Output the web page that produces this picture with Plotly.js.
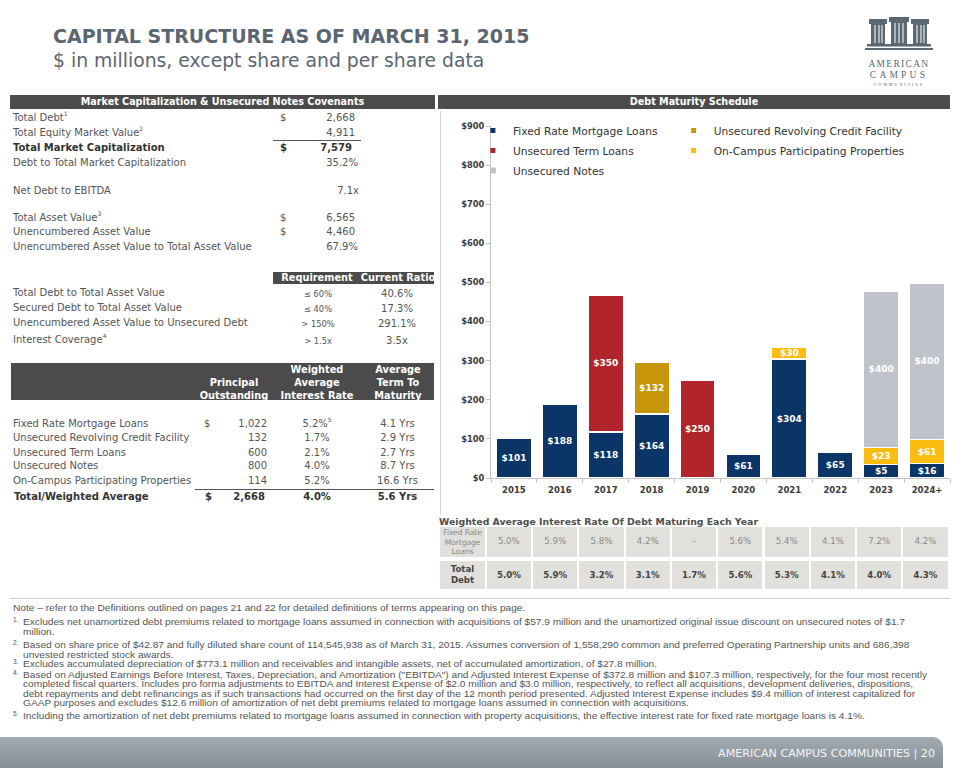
<!DOCTYPE html>
<html><head><meta charset="utf-8">
<script src="https://cdn.plot.ly/plotly-3.0.1.min.js"></script>
<style>
body{margin:0;width:960px;height:768px;position:relative;overflow:hidden;background:#fff;font-family:"DejaVu Sans",Verdana,sans-serif;}
.t{position:absolute;white-space:nowrap;line-height:14px;height:14px;}
.t sup{font-size:6px;line-height:0;vertical-align:5px;}
.b{position:absolute;}
#fn{position:absolute;left:0;top:0;font-family:"Liberation Sans",Arial,sans-serif;color:#555;}
#fn div{position:absolute;white-space:nowrap;font-size:9.5px;line-height:10px;transform-origin:0 50%;}
</style></head><body>
<div id="chart" style="position:absolute;left:436px;top:110px;width:520px;height:400px;"></div>
<script>
// ---------------- chart data ----------------
const years = ['2015','2016','2017','2018','2019','2020','2021','2022','2023','2024+'];
const fixedRateLoans   = [101,188,118,164,null,61,304,65,34,37];
const fixedRateLabels  = ['$101','$188','$118','$164','','$61','$304','$65','$5','$16'];
const revolvingCredit  = [null,null,null,132,null,null,null,null,null,null];
const revolvingLabels  = ['','','','$132','','','','','',''];
const termLoans        = [null,null,350,null,250,null,null,null,null,null];
const termLabels       = ['','','$350','','$250','','','','',''];
const onCampus         = [null,null,null,null,null,null,30,null,44,61];
const onCampusLabels   = ['','','','','','','$30','','$23','$61'];
const unsecuredNotes   = [null,null,null,null,null,null,null,null,400,400];
const notesLabels      = ['','','','','','','','','$400','$400'];
const seriesNames = ['Fixed Rate Mortgage Loans','Unsecured Revolving Credit Facility','Unsecured Term Loans','On-Campus Participating Properties','Unsecured Notes'];

// ---------------- table data ----------------
const capLabels  = ['Total Debt<sup>1</sup>','Total Equity Market Value<sup>2</sup>','Total Market Capitalization','Debt to Total Market Capitalization','Net Debt to EBITDA','Total Asset Value<sup>3</sup>','Unencumbered Asset Value','Unencumbered Asset Value to Total Asset Value'];
const capDollar  = ['$','','$','','','$','$',''];
const capValues  = ['2,668','4,911','7,579','35.2%','7.1x','6,565','4,460','67.9%'];
const covenantLabels = ['Total Debt to Total Asset Value','Secured Debt to Total Asset Value','Unencumbered Asset Value to Unsecured Debt','Interest Coverage<sup>4</sup>'];
const covenantRequirements = ['≤ 60%','≤ 40%','> 150%','> 1.5x'];
const covenantCurrent = ['40.6%','17.3%','291.1%','3.5x'];
const debtTypes     = ['Fixed Rate Mortgage Loans','Unsecured Revolving Credit Facility','Unsecured Term Loans','Unsecured Notes','On-Campus Participating Properties'];
const debtPrincipal = ['1,022','132','600','800','114'];
const debtRate      = ['5.2%<sup>5</sup>','1.7%','2.1%','4.0%','5.2%'];
const debtTerm      = ['4.1 Yrs','2.9 Yrs','2.7 Yrs','8.7 Yrs','16.6 Yrs'];
const debtTotal     = ['Total/Weighted Average','2,668','4.0%','5.6 Yrs'];
const fixedRateRates = ['5.0%','5.9%','5.8%','4.2%','-','5.6%','5.4%','4.1%','7.2%','4.2%'];
const totalDebtRates = ['5.0%','5.9%','3.2%','3.1%','1.7%','5.6%','5.3%','4.1%','4.0%','4.3%'];
const footnotes = [
 ['', ['Note – refer to the Definitions outlined on pages 21 and 22 for detailed definitions of terms appearing on this page.']],
 ['1.', ['Excludes net unamortized debt premiums related to mortgage loans assumed in connection with acquisitions of $57.9 million and the unamortized original issue discount on unsecured notes of $1.7','million.']],
 ['2.', ['Based on share price of $42.87 and fully diluted share count of 114,545,938 as of March 31, 2015.  Assumes conversion of 1,558,290 common and preferred Operating Partnership units and 686,398','unvested restricted stock awards.']],
 ['3.', ['Excludes accumulated depreciation of $773.1 million and receivables and intangible assets, net of accumulated amortization, of $27.8 million.']],
 ['4.', ['Based on Adjusted Earnings Before Interest, Taxes, Depreciation, and Amortization ("EBITDA") and Adjusted Interest Expense of $372.8 million and $107.3 million, respectively, for the four most recently','completed fiscal quarters. Includes pro forma adjustments to EBITDA and Interest Expense of $2.0 million and $3.0 million, respectively, to reflect all acquisitions, development deliveries, dispositions,','debt repayments and debt refinancings as if such transactions had occurred on the first day of the 12 month period presented.  Adjusted Interest Expense includes $9.4 million of interest capitalized for','GAAP purposes and excludes $12.6 million of amortization of net debt premiums related to mortgage loans assumed in connection with acquisitions.']],
 ['5.', ['Including the amortization of net debt premiums related to mortgage loans assumed in connection with property acquisitions, the effective interest rate for fixed rate mortgage loans is 4.1%.']]
];

// ---------------- helpers ----------------
function T(text, x, y, o) {
  o = o || {};
  const d = document.createElement('div');
  d.className = 't';
  d.innerHTML = text;
  d.style.fontSize = (o.fs || 10) + 'px';
  d.style.top = (y - 7) + 'px';
  if (o.align === 'right') { d.style.right = (960 - x) + 'px'; d.style.textAlign = 'right'; }
  else if (o.align === 'center') { d.style.left = (x - 70) + 'px'; d.style.width = '140px'; d.style.textAlign = 'center'; }
  else d.style.left = x + 'px';
  if (o.bold) d.style.fontWeight = 'bold';
  d.style.color = o.color || '#555';
  document.body.appendChild(d);
  return d;
}
function B(x, y, w, h, bg, extra) {
  const d = document.createElement('div');
  d.className = 'b';
  d.style.left = x + 'px'; d.style.top = y + 'px'; d.style.width = w + 'px'; d.style.height = h + 'px';
  d.style.background = bg;
  if (extra) Object.assign(d.style, extra);
  document.body.appendChild(d);
  return d;
}

// ---------------- title ----------------
T('CAPITAL STRUCTURE AS OF MARCH 31, 2015', 53, 32, {fs:19, bold:true, color:'#5b6670'}).style.lineHeight='22px';
T('$ in millions, except share and per share data', 53, 57, {fs:18.8, color:'#5b6670'}).style.lineHeight='22px';

// logo
document.body.insertAdjacentHTML('beforeend', `
<svg style="position:absolute;left:862px;top:14px" width="76" height="76" viewBox="0 0 76 76">
 <g fill="#5b6872">
  <rect x="7" y="5" width="18" height="5"/><rect x="27" y="3" width="20" height="5"/><rect x="49" y="5" width="18" height="5"/>
  <rect x="9" y="10" width="14" height="20"/><rect x="29" y="8" width="16" height="22"/><rect x="51" y="10" width="14" height="20"/>
  <rect x="5" y="30" width="64" height="2.5"/><rect x="3" y="34" width="68" height="2"/>
 </g>
 <g stroke="#fff" stroke-width="1">
  <line x1="13" y1="11" x2="13" y2="29"/><line x1="17" y1="11" x2="17" y2="29"/><line x1="20" y1="11" x2="20" y2="29"/>
  <line x1="33" y1="9" x2="33" y2="29"/><line x1="37" y1="9" x2="37" y2="29"/><line x1="41" y1="9" x2="41" y2="29"/>
  <line x1="55" y1="11" x2="55" y2="29"/><line x1="59" y1="11" x2="59" y2="29"/><line x1="62" y1="11" x2="62" y2="29"/>
 </g>
 <g fill="#5b6872" font-family="Liberation Serif,serif" text-anchor="middle">
  <text x="37" y="53" font-size="9.5" letter-spacing="1.3">AMERICAN</text>
  <text x="37" y="64" font-size="9.5" letter-spacing="3.2">CAMPUS</text>
  <text x="37" y="72" font-size="4" letter-spacing="2">COMMUNITIES</text>
 </g>
</svg>`);

// ---------------- section headers ----------------
const H1 = B(10, 95, 425, 14, '#4b4b4b');
H1.innerHTML = '<div style="color:#fff;font-weight:bold;font-size:9.6px;line-height:14px;text-align:center">Market Capitalization &amp; Unsecured Notes Covenants</div>';
const H2 = B(438, 95, 512, 14, '#4b4b4b');
H2.innerHTML = '<div style="color:#fff;font-weight:bold;font-size:9.6px;line-height:14px;text-align:center">Debt Maturity Schedule</div>';

// ---------------- market cap table ----------------
const capY = [118.3,133.3,147.7,163.3,190.7,217.7,231.7,247.3];
const capRight = [355,355,352,358,359,355,355,358];
capLabels.forEach((l,i) => {
  const bold = (i === 2);
  const col = bold ? '#333' : '#555';
  T(l, 13, capY[i], {bold, color:col});
  if (capDollar[i]) T(capDollar[i], 280, capY[i], {bold, color:col});
  T(capValues[i], capRight[i], capY[i], {align:'right', bold, color:col});
});
B(273, 140, 88, 1, '#555');

// covenants
const rq = B(273, 271.5, 161, 12.5, '#4b4b4b', {overflow:'hidden'});
T('Requirement', 317, 277.7, {align:'center', bold:true, color:'#fff', fs:9.8});
T('Current Ratio', 398, 277.7, {align:'center', bold:true, color:'#fff', fs:9.8});
const covY = [292.7,307.7,323.3,340];
covenantLabels.forEach((l,i) => {
  T(l, 13, covY[i]);
  T(covenantRequirements[i], 318, covY[i]+1, {align:'center', fs:8.3});
  T(covenantCurrent[i], 397, covY[i]+1, {align:'center'});
});

// debt table header
B(11, 362.7, 423, 37.3, '#4b4b4b');
const hdr = [[234, ['','Principal','Outstanding']],[317,['Weighted','Average','Interest Rate']],[398,['Average','Term To','Maturity']]];
hdr.forEach(h => h[1].forEach((s,j) => { if (s) T(s, h[0], 370 + j*12.9, {align:'center', bold:true, color:'#fff', fs:9.8}); }));
const debtY = [424,438.3,452.7,466.3,481];
debtTypes.forEach((l,i) => {
  T(l, 13, debtY[i]);
  if (i === 0) T('$', 204, debtY[i]);
  T(debtPrincipal[i], 267, debtY[i], {align:'right'});
  T(debtRate[i], 317, debtY[i], {align:'center'});
  T(debtTerm[i], 397.5, debtY[i], {align:'center'});
});
B(195, 488.5, 239, 1, '#555');
T(debtTotal[0], 14, 496.7, {bold:true, color:'#333'});
T('$', 205, 496.7, {bold:true, color:'#333'});
T(debtTotal[1], 265, 496.7, {align:'right', bold:true, color:'#333'});
T(debtTotal[2], 317, 496.7, {align:'center', bold:true, color:'#333'});
T(debtTotal[3], 397.5, 496.7, {align:'center', bold:true, color:'#333'});

// chart left border
B(440, 111, 1, 404, '#d5d5d5');

// ---------------- weighted average rate table ----------------
T('Weighted Average Interest Rate Of Debt Maturing Each Year', 439, 521.5, {bold:true, color:'#4d4d4d', fs:9.35});
const r1 = B(440, 527.3, 45, 29.4, '#e1e0dc');
r1.innerHTML = '<div style="font-size:7.8px;line-height:9.4px;color:#8a8a8a;text-align:center;padding-top:1px;letter-spacing:-0.2px">Fixed Rate<br>Mortgage<br>Loans</div>';
const r2 = B(440, 560.7, 45, 28.6, '#e1e0dc');
r2.innerHTML = '<div style="font-size:8.6px;line-height:11px;color:#444;font-weight:bold;text-align:center;padding-top:3px">Total<br>Debt</div>';
fixedRateRates.forEach((v,i) => {
  const c = B(486.7 + i*46.3, 527.3, 44.3, 29.4, '#e1e0dc');
  c.innerHTML = '<div style="font-size:8.6px;line-height:29.4px;color:#8a8a8a;text-align:center">'+v+'</div>';
});
totalDebtRates.forEach((v,i) => {
  const c = B(486.7 + i*46.3, 560.7, 44.3, 28.6, '#e1e0dc');
  c.innerHTML = '<div style="font-size:8.6px;line-height:28.6px;color:#444;font-weight:bold;text-align:center">'+v+'</div>';
});

// ---------------- footnotes ----------------
B(10, 597.5, 940, 1.5, '#cfcfcf');
const fn = document.createElement('div'); fn.id = 'fn'; document.body.appendChild(fn);
const fnY = [[607.5],[622,632],[645,654.5],[664],[674.5,684,693.5,703],[715.5]];
const lines = [];
footnotes.forEach((f,i) => {
  if (f[0]) {
    const n = document.createElement('div');
    n.textContent = f[0]; n.style.left = '13px'; n.style.top = (fnY[i][0]-7) + 'px'; n.style.fontSize = '6.5px';
    fn.appendChild(n);
  }
  f[1].forEach((s,j) => {
    const d = document.createElement('div');
    d.textContent = s; d.style.left = (f[0] ? 23 : 13) + 'px'; d.style.top = (fnY[i][j]-5) + 'px';
    fn.appendChild(d); lines.push(d);
  });
});
const target = 904, ref = lines[6].getBoundingClientRect().width;
const k = target / ref;
lines.forEach(d => d.style.transform = 'scaleX(' + k + ')');

// ---------------- footer ----------------
B(0, 737, 943, 31, 'linear-gradient(#a3abb2,#858e96)', {borderTopRightRadius:'10px'});
T('AMERICAN CAMPUS COMMUNITIES | 20', 935, 754, {align:'right', fs:11.1, color:'#f5f5f5'});

// ---------------- Plotly chart ----------------
const colors = ['#0b3467','#c8960b','#b1242c','#fbbd10','#c0c3cb'];
const vals = [fixedRateLoans, revolvingCredit, termLoans, onCampus, unsecuredNotes];
const labs = [fixedRateLabels, revolvingLabels, termLabels, onCampusLabels, notesLabels];
const traces = [];
vals.forEach((v,i) => {
  traces.push({
    type:'bar', x:years, y:v, text:labs[i], name:seriesNames[i],
    textposition:'inside', insidetextanchor:'middle', textangle:0, constraintext:'none',
    textfont:{family:'DejaVu Sans', size:9, color:'#fff', weight:'bold'},
    marker:{color:colors[i], line:{color:'#fff', width:1.5}},
    showlegend:false, hoverinfo:'skip'
  });
});
// legend: left column (fixed, term, notes), right column (revolving, on-campus)
const legendCols = [[0,'legend'],[2,'legend'],[4,'legend'],[1,'legend2'],[3,'legend2']];
legendCols.forEach(([i,lg]) => {
  traces.push({type:'scatter', mode:'markers', x:[null], y:[null], name:seriesNames[i], legend:lg, legendgroup:'g'+i,
    marker:{symbol:'square', size: i===4 ? 6 : 5, color:colors[i]}, hoverinfo:'skip'});
});
const legendStyle = {yanchor:'top', xanchor:'left', tracegroupgap:1, bgcolor:'rgba(0,0,0,0)',
  font:{family:'DejaVu Sans', size:10.7, color:'#333'}};
const layout = {
  width:520, height:400, margin:{l:55, r:6, t:16, b:32},
  barmode:'stack', bargap:0.23,
  paper_bgcolor:'rgba(0,0,0,0)', plot_bgcolor:'rgba(0,0,0,0)',
  font:{family:'DejaVu Sans', color:'#333'},
  showlegend:true,
  xaxis:{type:'category', showline:true, linecolor:'#c4c4c4', linewidth:1, ticks:'outside', tickson:'boundaries',
         ticklen:4, tickcolor:'#c4c4c4', ticklabelstandoff:4, tickfont:{size:8.5, weight:'bold', color:'#3a3a3a'}, showgrid:false, fixedrange:true},
  yaxis:{range:[0,900], dtick:100, tickprefix:'$', showline:true, linecolor:'#c4c4c4', linewidth:1, ticks:'outside',
         ticklen:4, tickcolor:'#c4c4c4', tickfont:{size:8.3, weight:'bold', color:'#3a3a3a'}, showgrid:false, zeroline:false, fixedrange:true},
  legend: Object.assign({x:-0.0394, y:1.0285}, legendStyle),
  legend2: Object.assign({x:0.398, y:1.0285}, legendStyle)
};
Plotly.newPlot('chart', traces, layout, {displayModeBar:false, staticPlot:true});
</script>
</body></html>
